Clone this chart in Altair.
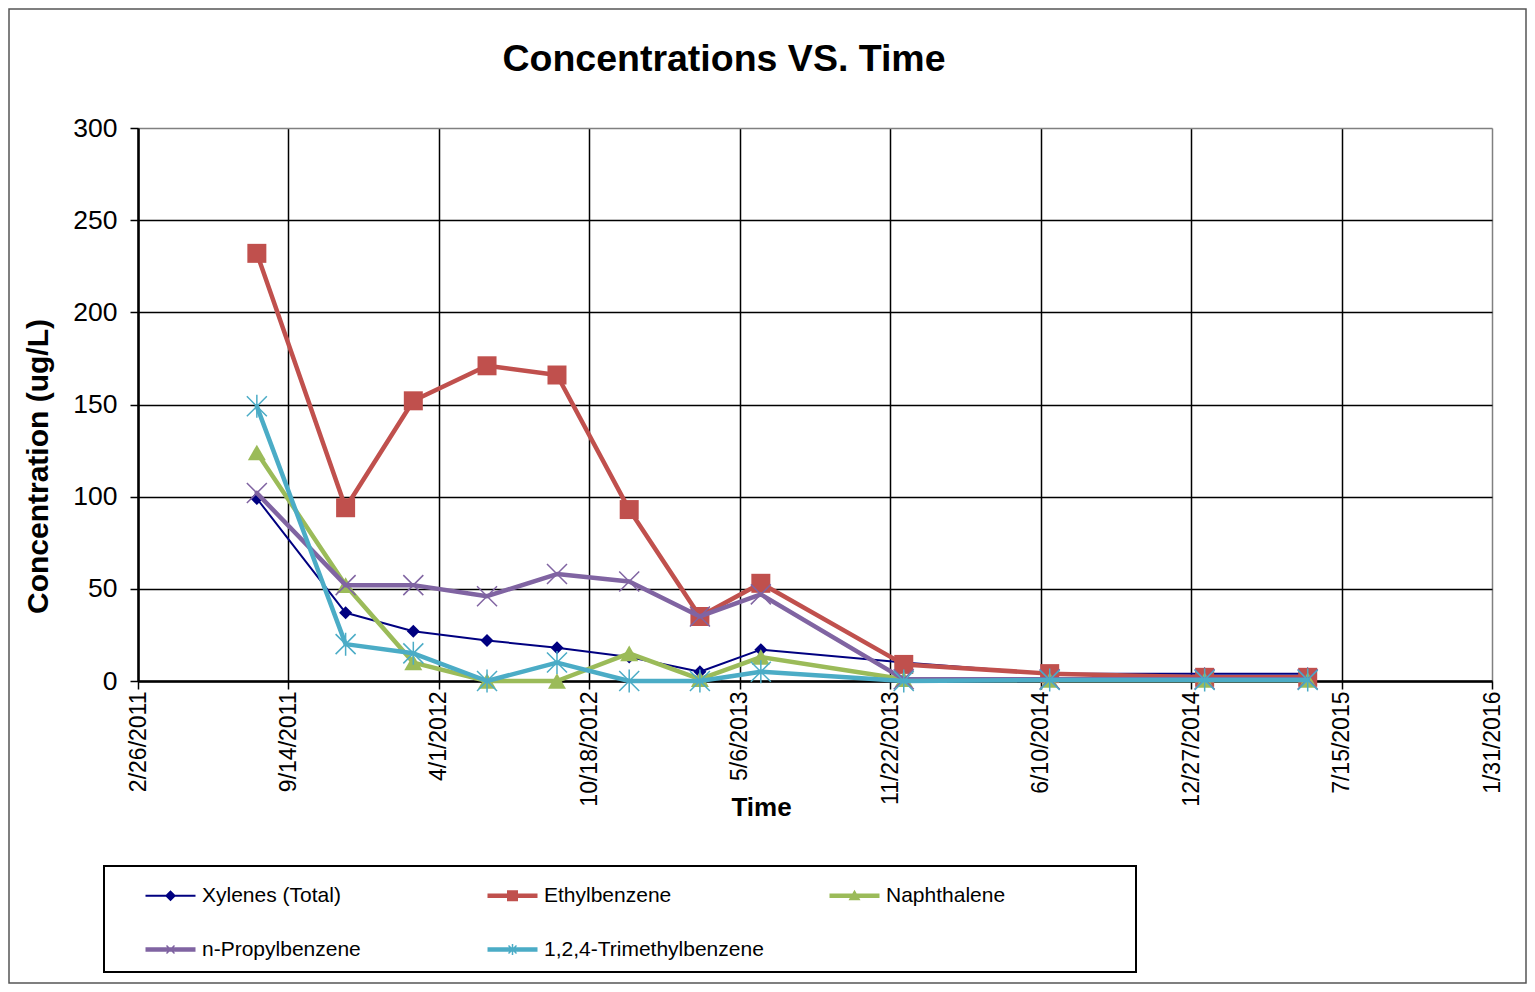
import altair as alt
import pandas as pd

# ---------------- data ----------------
series_names = ["Xylenes (Total)", "Ethylbenzene", "Naphthalene", "n-Propylbenzene", "1,2,4-Trimethylbenzene"]
series_colors = ["#000080", "#C0504D", "#9BBB59", "#8064A2", "#4BACC6"]

sample_dates = ["2011-08-03", "2011-11-29", "2012-02-27", "2012-06-04", "2012-09-05", "2012-12-10",
                "2013-03-14", "2013-06-03", "2013-12-10", "2014-06-22", "2015-01-14", "2015-05-31"]

xylenes = [99, 37, 27, 22, 18, 13, 5, 17, 10, 4, 4, 4]
ethylbenzene = [232, 94, 152, 171, 166, 93, 35, 53, 9, 4, 2, 2]
naphthalene = [124, 52, 10, 0, 0, 15, 1, 13, 1, 0.5, 0.5, 0.5]
n_propylbenzene = [102, 52, 52, 46, 58, 54, 35, 47, 1, 1, 1, 1]
trimethylbenzene = [149, 20, 15, 0, 10, 0, 0, 5, 0, 0.5, 0.5, 0.5]

x_tick_labels = ["2/26/2011", "9/14/2011", "4/1/2012", "10/18/2012", "5/6/2013", "11/22/2013",
                 "6/10/2014", "12/27/2014", "7/15/2015", "1/31/2016"]
y_tick_values = [0, 50, 100, 150, 200, 250, 300]

# ---------------- build table ----------------
EPOCH = pd.Timestamp("1899-12-30")


def serial(ts):
    return int((ts - EPOCH).days)


sample_serials = [serial(pd.Timestamp(d)) for d in sample_dates]
x_tick_values = [serial(pd.to_datetime(s, format="%m/%d/%Y")) for s in x_tick_labels]

all_values = [xylenes, ethylbenzene, naphthalene, n_propylbenzene, trimethylbenzene]
rows = []
for name, vals in zip(series_names, all_values):
    for t, v in zip(sample_serials, vals):
        rows.append({"series": name, "t": t, "v": v})
df = pd.DataFrame(rows)

FONT = "Liberation Sans"

label_expr = "[" + ",".join("'%s'" % s for s in x_tick_labels) + "][indexof([" + \
    ",".join(str(v) for v in x_tick_values) + "], datum.value)]"

x_axis = alt.Axis(
    values=x_tick_values, labelExpr=label_expr, labelAngle=270, labelFlush=False,
    labelFontSize=23, labelFont=FONT, labelColor="black", labelPadding=2,
    labelAlign="right", labelBaseline="middle", labelOverlap=False,
    grid=True, gridWidth=1.5,
    gridColor={"condition": {"test": "datum.value == %d" % x_tick_values[-1], "value": "#808080"},
               "value": "black"},
    domainColor="black", domainWidth=2.5,
    tickColor="black", tickWidth=1.5, tickSize=8,
    title="Time", titleFontSize=26, titleFont=FONT, titleFontWeight="bold", titleColor="black",
    titleX=623, titleY=134, titleBaseline="alphabetic", titleAlign="center",
)
y_axis = alt.Axis(
    values=y_tick_values, labelFontSize=26.5, labelFont=FONT, labelColor="black", labelPadding=13,
    grid=True, gridWidth=1.5,
    gridColor={"condition": {"test": "datum.value == %d" % y_tick_values[-1], "value": "#808080"},
               "value": "black"},
    domainColor="black", domainWidth=2.5,
    tickColor="black", tickWidth=1.5, tickSize=8,
    title="Concentration (ug/L)", titleFontSize=30, titleFont=FONT, titleFontWeight="bold",
    titleColor="black", titleAngle=270, titleX=-91, titleY=338, titleBaseline="alphabetic",
    titleAlign="center",
)

x_enc = alt.X("t:Q", scale=alt.Scale(domain=[x_tick_values[0], x_tick_values[-1]], nice=False, zero=False),
              axis=x_axis)
y_enc = alt.Y("v:Q", scale=alt.Scale(domain=[0, 300], nice=False), axis=y_axis)

line_widths = [2, 4.5, 4.5, 4.5, 4.5]
marker_specs = [
    dict(shape="diamond", filled=True, size=169, strokeWidth=0),
    dict(shape="square", filled=True, size=361, strokeWidth=0),
    dict(shape="triangle-up", filled=True, size=324, strokeWidth=0),
    dict(shape="M-1,-1L1,1M-1,1L1,-1", filled=False, size=400, strokeWidth=1.5),
    dict(shape="M-1,-1L1,1M-1,1L1,-1M0,-1.15L0,1.15", filled=False, size=400, strokeWidth=1.5),
]

# legend symbols (filled outlines: line segment + marker)
thin = "M-5,-0.2H5V0.2H-5Z"
thick = "M-5,-0.45H5V0.45H-5Z"
xs = ("M-0.694,-0.906L0.906,0.694L0.694,0.906L-0.906,-0.694Z"
      "M-0.906,0.694L0.694,-0.906L0.906,-0.694L-0.694,0.906Z")
legend_paths = [
    thin + "M0,-1.1L1.1,0L0,1.1L-1.1,0Z",
    thick + "M-1.1,-1.1H1.1V1.1H-1.1Z",
    thick + "M0,-1.2L1.2,0.9H-1.2Z",
    thick + xs,
    thick + xs + "M-0.15,-1.1H0.15V1.1H-0.15Z",
]

layers = []

# chart outer frame and legend frame (decoration)
one = pd.DataFrame({"k": [0]})
layers.append(alt.Chart(one).mark_rect(fill="transparent", stroke="#555555", strokeWidth=1.5).encode(
    x=alt.value(-129), x2=alt.value(1388), y=alt.value(-119), y2=alt.value(855)))
layers.append(alt.Chart(one).mark_rect(fill="transparent", stroke="black", strokeWidth=2).encode(
    x=alt.value(-34), x2=alt.value(998), y=alt.value(738), y2=alt.value(844)))

for name, col, lw, mk in zip(series_names, series_colors, line_widths, marker_specs):
    base = alt.Chart(df).transform_filter(alt.datum.series == name)
    layers.append(base.mark_line(color=col, strokeWidth=lw, strokeJoin="round", strokeCap="round")
                  .encode(x=x_enc, y=y_enc))
    if mk["filled"]:
        pt = base.mark_point(shape=mk["shape"], filled=True, size=mk["size"], color=col, opacity=1,
                             strokeWidth=0)
    else:
        pt = base.mark_point(shape=mk["shape"], filled=False, size=mk["size"], color=col, opacity=1,
                             strokeWidth=mk["strokeWidth"])
    layers.append(pt.encode(x=x_enc, y=y_enc))

legend = alt.Legend(
    title=None, orient="none", legendX=7, legendY=757, columns=3, direction="horizontal",
    gridAlign="all", columnPadding=65, rowPadding=32, symbolSize=100, symbolStrokeWidth=0,
    symbolOffset=15, labelOffset=21, labelFontSize=21, labelFont=FONT, labelColor="black",
    padding=0, labelLimit=400,
)
legend_layer = alt.Chart(df).transform_filter("false").mark_point(
    filled=True, size=100, opacity=1, strokeWidth=0
).encode(
    x=x_enc, y=y_enc,
    color=alt.Color("series:N", scale=alt.Scale(domain=series_names, range=series_colors), legend=legend),
    shape=alt.Shape("series:N", scale=alt.Scale(domain=series_names, range=legend_paths), legend=legend),
)
layers.append(legend_layer)

chart = alt.layer(*layers).properties(
    width=1354, height=553,
    autosize=alt.AutoSizeParams(type="none"),
    padding={"left": 130, "top": 120, "right": 35, "bottom": 303},
    title=alt.TitleParams(
        text="Concentrations VS. Time", fontSize=37.5, font=FONT, fontWeight="bold", color="black",
        anchor="middle", frame="group", dx=-91, dy=100, offset=0, baseline="alphabetic",
    ),
).configure_view(stroke="#808080", strokeWidth=2).configure(font=FONT, background="white")

chart.save("out.html", embed_options={"renderer": "svg", "actions": False})
